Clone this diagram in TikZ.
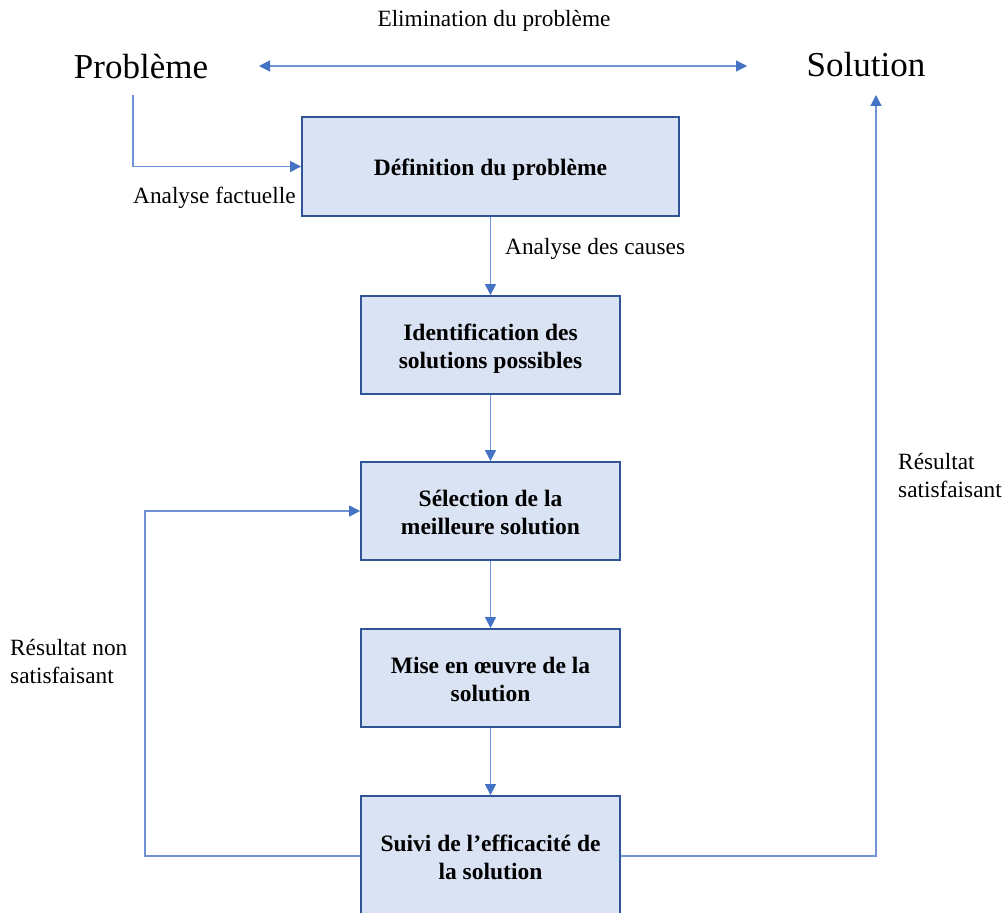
\documentclass[tikz,border=0pt]{standalone}
\usepackage{fontspec}
\setmainfont{Liberation Serif}
\usetikzlibrary{arrows.meta}
\definecolor{linkblue}{HTML}{6F93D6}
\definecolor{tipblue}{HTML}{4472C4}
\definecolor{boxfill}{HTML}{DAE3F3}
\definecolor{boxline}{HTML}{2F5597}
% lower the step text slightly while keeping its box size
\newcommand{\steptext}[1]{\raisebox{-3.5pt}[\height][\depth]{\begin{tabular}{@{}c@{}}#1\end{tabular}}}
\tikzset{
  x=1pt, y=-1pt,
  stepbox/.style={draw=boxline, line width=1.8pt, fill=boxfill, align=center,
    minimum width=259pt, minimum height=98pt, inner sep=0pt,
    font=\fontsize{23.5}{28}\selectfont\bfseries},
  link/.style={draw=linkblue, line width=1.1pt,
    -{Triangle[length=11pt,width=11pt,color=tipblue]}},
  biglink/.style={draw=linkblue, line width=1.1pt,
    {Triangle[length=11pt,width=11pt,color=tipblue]}-{Triangle[length=11pt,width=11pt,color=tipblue]}},
  lbl/.style={inner sep=0pt, align=left, font=\fontsize{23.3}{28}\selectfont},
  title/.style={inner sep=0pt, font=\fontsize{35}{40}\selectfont},
}
\begin{document}
\begin{tikzpicture}
\useasboundingbox (0,0) rectangle (1008,912);
\clip (0,0) rectangle (1008,912);

% end points of the top line
\node[title] (prob) at (141,67) {Problème};
\node[title] (sol) at (866,65) {Solution};
\node[lbl] (elim) at (494,21) {Elimination du problème};
\coordinate (elimL) at (259,66);
\coordinate (elimR) at (747,66);
\draw[biglink] (elimL) -- (elimR);

% steps of the method
\node[stepbox, minimum width=377pt, minimum height=99pt] (b1) at (490.5,166.5) {\steptext{Définition du problème}};
\node[stepbox] (b2) at (490.5,345) {\steptext{Identification des\\solutions possibles}};
\node[stepbox] (b3) at (490.5,511) {\steptext{Sélection de la\\meilleure solution}};
\node[stepbox] (b4) at (490.5,678) {\steptext{Mise en œuvre de la\\solution}};
\node[stepbox, minimum height=120pt] (b5) at (490.5,856) {\steptext{Suivi de l’efficacité de\\la solution}};

% links between the steps
\coordinate (probfoot) at (133,95);
\draw[link] (probfoot) |- (b1.west);
\node[lbl, anchor=west] (fact) at (133,198) {Analyse factuelle};
\draw[link] (b1.south) -- (b2.north);
\node[lbl, anchor=west] (causes) at (505,249) {Analyse des causes};
\draw[link] (b2.south) -- (b3.north);
\draw[link] (b3.south) -- (b4.north);
\draw[link] (b4.south) -- (b5.north);

% feedback loops
\coordinate (loopL) at (145,856);
\draw[link] (b5.west) -- (loopL) |- (b3.west);
\node[lbl, anchor=west] (nok) at (10,662) {Résultat non\\satisfaisant};
\coordinate (solfoot) at (876,95);
\draw[link] (b5.east) -| (solfoot);
\node[lbl, anchor=west] (ok) at (898,476) {Résultat\\satisfaisant};
\end{tikzpicture}
\end{document}
